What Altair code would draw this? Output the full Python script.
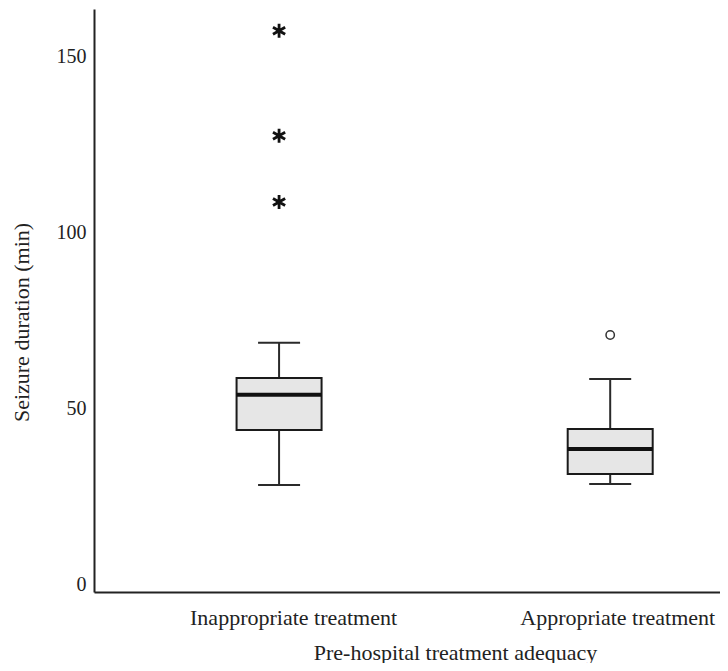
import altair as alt
import pandas as pd

# ---- data ----
groups = ["Inappropriate treatment", "Appropriate treatment"]
positions = [1, 2]
whisker_low = [28.4, 28.7]
q1 = [44.0, 31.5]
median = [54.0, 38.6]
q3 = [58.8, 44.3]
whisker_high = [68.8, 58.5]

extreme_group = [1, 1, 1]          # shown with "*"
extreme_values = [108.8, 127.6, 157.4]
outlier_group = [2]                # shown with "o"
outlier_values = [71.0]

y_ticks = [0, 50, 100, 150]

FONT = "Liberation Serif"
TXT = "#222222"

box_df = pd.DataFrame({
    "group": groups, "pos": positions, "lo": whisker_low, "q1": q1,
    "med": median, "q3": q3, "hi": whisker_high,
})
cap_df = pd.DataFrame({
    "pos": positions + positions,
    "v": whisker_low + whisker_high,
})
star_df = pd.DataFrame({"pos": extreme_group, "v": extreme_values})
circ_df = pd.DataFrame({"pos": outlier_group, "v": outlier_values})

label_expr = " : ".join(
    [f"datum.value == {p} ? '{g}'" for p, g in zip(positions[:-1], groups[:-1])]
    + [f"'{groups[-1]}'"]
)

W, H = 626, 583
xscale = alt.Scale(domain=[0.4562, 2.3165], nice=False, zero=False)
yscale = alt.Scale(domain=[-2.0, 163.6], nice=False, zero=False)

xaxis = alt.Axis(
    values=positions, labelExpr=label_expr, grid=False, ticks=False,
    domain=True, domainColor=TXT, domainWidth=2,
    labelFont=FONT, labelFontSize=22, labelColor=TXT, labelLimit=400,
    labelBaseline="alphabetic", labelPadding=32,
    labelOffset={"condition": {"test": "datum.value == 2", "value": 7}, "value": 14},
    title="Pre-hospital treatment adequacy", titleFont=FONT,
    titleFontSize=22, titleFontWeight="normal", titleColor=TXT,
    titleX=361, titleY=67, titleBaseline="alphabetic", titleAlign="center",
)
yaxis = alt.Axis(
    values=y_ticks, grid=False, ticks=False, domain=True,
    domainColor=TXT, domainWidth=2,
    labelFont=FONT, labelFontSize=20, labelColor=TXT, labelPadding=8,
    title="Seizure duration (min)", titleFont=FONT, titleFontSize=22,
    titleFontWeight="normal", titleColor=TXT, titleAngle=-90,
    titleX=-66, titleY=313, titleBaseline="alphabetic", titleAlign="center",
)

base_x = alt.X("pos:Q", scale=xscale, axis=xaxis)

whiskers = alt.Chart(box_df).mark_rule(color="#2a2a2a", strokeWidth=2).encode(
    x=base_x, y=alt.Y("lo:Q", scale=yscale, axis=yaxis), y2="hi:Q"
)
boxes = alt.Chart(box_df).mark_bar(
    size=85, fill="#e6e6e6", stroke="#1a1a1a", strokeWidth=2
).encode(x="pos:Q", y="q1:Q", y2="q3:Q")
medians = alt.Chart(box_df).mark_tick(
    orient="horizontal", size=85, thickness=4, color="#111111", opacity=1
).encode(x="pos:Q", y="med:Q")
caps = alt.Chart(cap_df).mark_tick(
    orient="horizontal", size=42, thickness=2, color="#2a2a2a", opacity=1
).encode(x="pos:Q", y="v:Q")
stars = alt.Chart(star_df).mark_point(
    shape="M0,-1L0,1M-0.87,-0.5L0.87,0.5M-0.87,0.5L0.87,-0.5",
    size=196, filled=False, stroke="#111111", strokeWidth=2.8, opacity=1,
).encode(x="pos:Q", y="v:Q")
circles = alt.Chart(circ_df).mark_point(
    shape="circle", size=70, filled=False, stroke="#333333",
    strokeWidth=1.5, fill="white", opacity=1,
).encode(x="pos:Q", y="v:Q")

chart = alt.layer(whiskers, boxes, medians, caps, stars, circles).properties(
    width=W, height=H,
    autosize=alt.AutoSizeParams(type="none"),
    padding={"left": 86, "top": 1, "right": 0, "bottom": 71},
    background="white",
).configure_view(stroke=None)

chart.save("out.html", embed_options={"renderer": "svg", "actions": False})
